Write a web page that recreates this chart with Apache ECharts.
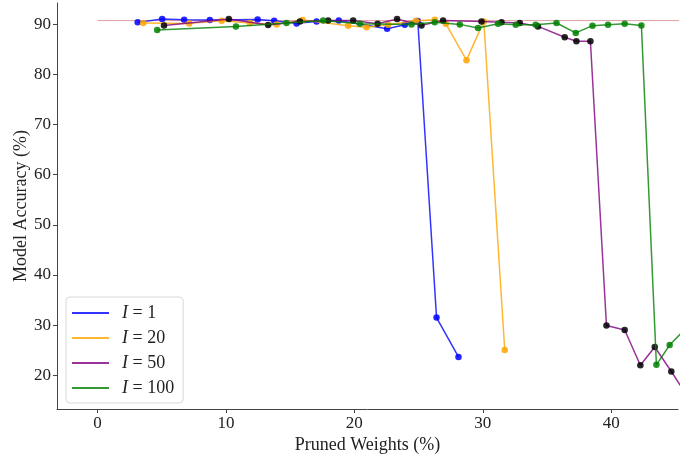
<!DOCTYPE html>
<html><head><meta charset="utf-8">
<script src="https://cdn.jsdelivr.net/npm/echarts@6/dist/echarts.min.js"></script>
<style>html,body{margin:0;padding:0;background:#fff}#c{width:699px;height:459px}</style>
</head><body><div id="c"></div>
<script>
const xTicks = [0, 10, 20, 30, 40];
const yTicks = [20, 30, 40, 50, 60, 70, 80, 90];
const baseline = 90.7;
const seriesNames = ['1', '20', '50', '100'];
const i1 = [[3.13,90.34],[5.04,91.01],[6.75,90.87],[8.75,90.81],[12.47,90.93],[13.76,90.67],[15.5,90.14],[17.06,90.53],[18.79,90.73],[22.55,89.09],[23.93,89.88],[24.94,90.61],[26.4,31.52],[28.11,23.68]];
const i20 = [[3.56,90.22],[7.14,90.14],[9.67,90.67],[11.87,90.22],[13.95,89.94],[15.97,90.81],[19.52,89.68],[20.95,89.35],[22.63,89.88],[24.79,90.67],[26.26,90.87],[27.12,90.08],[28.73,82.81],[30.08,90.53],[31.71,25.07]];
const i50 = [[5.18,89.74],[10.23,91.01],[13.29,89.82],[15.76,90.53],[17.96,90.73],[19.91,90.73],[21.81,90.08],[23.33,91.01],[25.23,89.74],[26.91,90.73],[29.9,90.53],[31.46,90.34],[32.88,90.22],[34.3,89.54],[36.38,87.37],[37.29,86.57],[38.38,86.57],[39.63,29.94],[41.05,29.03],[42.27,22.02],[43.39,25.66],[44.68,20.77],[46.1,15.2]];
const i100 = [[4.65,88.83],[10.78,89.54],[14.72,90.22],[17.57,90.73],[20.43,90.08],[24.45,89.94],[26.26,90.34],[28.21,89.94],[29.63,89.23],[31.19,90.08],[32.57,89.88],[34.12,89.88],[35.74,90.22],[37.24,88.24],[38.54,89.68],[39.75,89.88],[41.05,90.08],[42.35,89.74],[43.52,22.1],[44.55,26.06],[46.1,30.1]];

const FONT = 'Liberation Serif';
const lineCol = ['#0000ff', '#ffa500', '#800080', '#008000'];
const markCol = ['#0000ff', '#ffa500', '#000000', '#008000'];
const datas = [i1, i20, i50, i100];
const names = seriesNames.map(s => 'I = ' + s);

const series = [{
  type: 'line', name: 'base', data: [[0, baseline], [60, baseline]],
  symbol: 'none', silent: true, z: 1,
  lineStyle: { color: '#d48a8a', width: 1, opacity: 0.8 }
}];
datas.forEach((d, k) => series.push({
  type: 'line', name: names[k], data: d, symbol: 'circle', symbolSize: 6.5,
  clip: true, z: 2 + k,
  lineStyle: { color: lineCol[k], width: 1.5, opacity: 0.8 },
  itemStyle: { color: markCol[k], opacity: 0.85 }
}));

const chart = echarts.init(document.getElementById('c'));
chart.setOption({
  animation: false,
  grid: { left: 57, right: 21, top: 3, bottom: 47 },
  xAxis: {
    type: 'value', min: -3.15, max: 45.2,
    name: 'Pruned Weights (%)', nameLocation: 'middle', nameGap: 27, nameMoveOverlap: false,
    nameTextStyle: { fontFamily: FONT, fontSize: 18, color: '#222' },
    axisLine: { onZero: false, lineStyle: { color: '#444', width: 1 } },
    axisTick: { show: true, length: 4, lineStyle: { color: '#444' }, customValues: xTicks },
    axisLabel: { fontFamily: FONT, fontSize: 17, color: '#222', margin: 6, customValues: xTicks },
    splitLine: { show: false }
  },
  yAxis: {
    type: 'value', min: 13.3, max: 94.2,
    name: 'Model Accuracy (%)', nameLocation: 'middle', nameGap: 27, nameMoveOverlap: false,
    nameTextStyle: { fontFamily: FONT, fontSize: 18, color: '#222' },
    axisLine: { show: true, onZero: false, lineStyle: { color: '#444', width: 1 } },
    axisTick: { show: true, length: 4, lineStyle: { color: '#444' }, customValues: yTicks },
    axisLabel: { fontFamily: FONT, fontSize: 17, color: '#222', margin: 6, customValues: yTicks },
    splitLine: { show: false }
  },
  legend: {
    orient: 'vertical', left: 66, top: 297,
    data: names.map((n, k) => ({ name: n, icon: 'rect', itemStyle: { color: lineCol[k], opacity: 0.8 } })),
    itemWidth: 37, itemHeight: 2, itemGap: 7,
    padding: [7, 9, 6, 6],
    borderColor: '#d8d8d8', borderWidth: 1, borderRadius: 4,
    backgroundColor: 'rgba(255,255,255,0.8)',
    formatter: n => '{i|I} = ' + n.slice(4),
    textStyle: { fontFamily: FONT, fontSize: 18, color: '#222', lineHeight: 17, padding: [0, 0, 0, 8],
      rich: { i: { fontFamily: FONT, fontStyle: 'italic', fontSize: 18 } } }
  },
  series: series
});
</script></body></html>
